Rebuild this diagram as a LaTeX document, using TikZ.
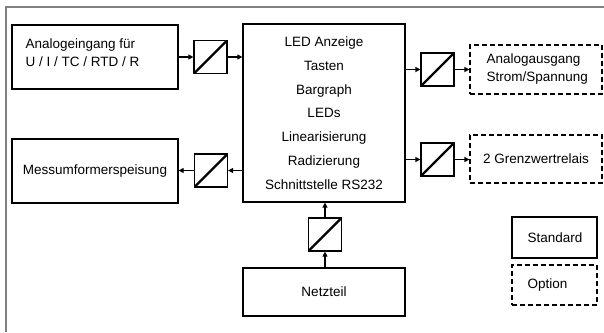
\documentclass[tikz,border=0pt]{standalone}
\usepackage{fontspec}
\setmainfont{Liberation Sans}
\usetikzlibrary{arrows.meta}
\tikzset{
  sigarrow/.style={-{Triangle[length=5pt,width=5pt]}, line width=1.2pt},
  stdbox/.style={draw, line width=1.2pt, inner sep=0pt},
  optbox/.style={draw, line width=1.2pt, dash pattern=on 5pt off 3pt, inner sep=0pt},
  convbox/.style={draw, line width=1.2pt, minimum width=33pt, minimum height=33pt, inner sep=0pt,
    path picture={\draw[line width=2.2pt] (path picture bounding box.south west) -- (path picture bounding box.north east);}},
  frameline/.style={line width=2pt, black!50}
}

\begin{document}
\begin{tikzpicture}[x=1pt, y=-1pt, every node/.style={font=\fontsize{13.5}{18}\selectfont}]
      \useasboundingbox (0,0) rectangle (604,332);
      \draw[frameline] (6,332) -- (6,7) -- (604,7);
      % blocks
      \node[stdbox, minimum width=166pt, minimum height=64pt] (ain) at (95,57) {};
      \node[anchor=west, align=left] (aintxt) at (22,53) {Analogeingang für\\U / I / TC / RTD / R};
      \node[stdbox, minimum width=166pt, minimum height=64pt] (mess) at (95,171) {Messumformerspeisung};
      \node[stdbox, minimum width=162pt, minimum height=178pt, align=center,
            font=\fontsize{13.5}{23.8}\selectfont] (ctrl) at (324,113)
            {LED Anzeige\\Tasten\\Bargraph\\LEDs\\Linearisierung\\Radizierung\\Schnittstelle RS232};
      \node[stdbox, minimum width=162pt, minimum height=48pt] (netz) at (324,292) {Netzteil};
      \node[optbox, minimum width=132pt, minimum height=49pt] (aout) at (536,69.5) {};
      \node[anchor=west, align=left] (aouttxt) at (483,69.5) {Analogausgang\\Strom/Spannung};
      \node[optbox, minimum width=132pt, minimum height=48pt] (relais) at (536,159) {2 Grenzwertrelais};
      % converters
      \node[convbox] (c1) at (210.5,57) {};
      \node[convbox] (c2) at (437.5,69.5) {};
      \node[convbox] (c3) at (437.5,159.5) {};
      \node[convbox] (c4) at (211,170.5) {};
      \node[convbox] (c5) at (325,234.5) {};
      % legend
      \node[stdbox, minimum width=85pt, minimum height=41pt] (std) at (554.5,237.5) {};
      \node[anchor=west] (stdtxt) at (524,237.5) {Standard};
      \node[optbox, minimum width=85pt, minimum height=40pt] (opt) at (554.5,285) {};
      \node[anchor=west] (opttxt) at (524,285) {Option};
      % connections
      \draw[sigarrow] (ain.east |- c1) -- (c1.west);
      \draw[sigarrow] (c1.east) -- (c1 -| ctrl.west);
      \draw[sigarrow] (c2 -| ctrl.east) -- (c2.west);
      \draw[sigarrow] (c2.east) -- (aout.west |- c2);
      \draw[sigarrow] (c3 -| ctrl.east) -- (c3.west);
      \draw[sigarrow] (c3.east) -- (relais.west |- c3);
      \draw[sigarrow] (c4 -| ctrl.west) -- (c4.east);
      \draw[sigarrow] (c4.west) -- (mess.east |- c4);
      \draw[sigarrow] (netz.north -| c5) -- (c5.south);
      \draw[sigarrow] (c5.north) -- (ctrl.south -| c5);
    \end{tikzpicture}
\end{document}
